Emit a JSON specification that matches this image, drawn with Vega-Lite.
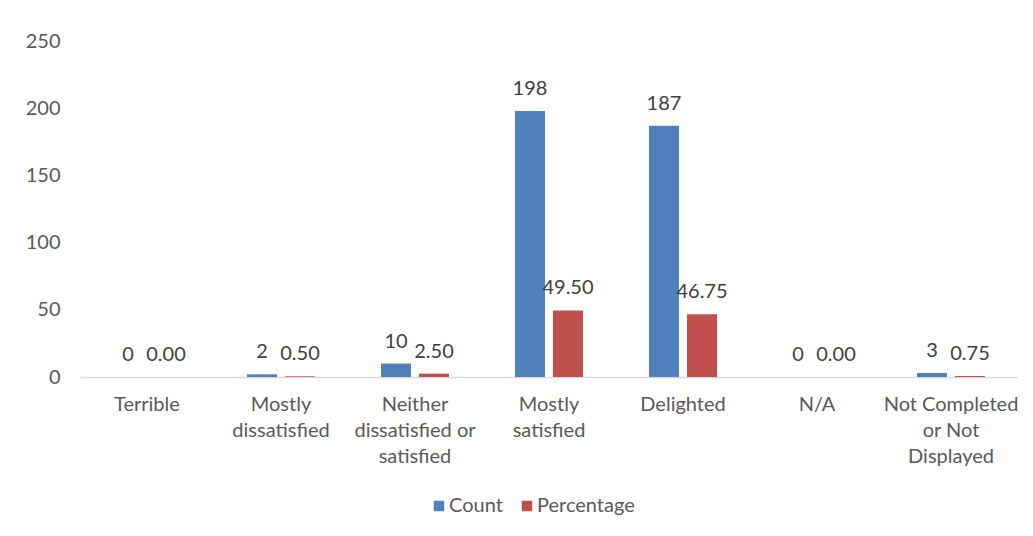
{
  "$schema": "https://vega.github.io/schema/vega-lite/v6.json",
  "autosize": "none",
  "width": 938,
  "height": 336,
  "padding": {"left": 80, "top": 41, "right": 15, "bottom": 159},
  "background": "white",
  "config": {
    "view": {"stroke": null},
    "font": "Lato",
    "axis": {"labelFont": "Lato", "labelColor": "#595959", "labelFontSize": 20},
    "legend": {"labelFont": "Lato", "labelColor": "#595959", "labelFontSize": 20}
  },
  "data": {
    "values": [
      {"category": "Terrible", "series": "Count", "value": 0},
      {"category": "Terrible", "series": "Percentage", "value": 0.0},
      {"category": "Mostly dissatisfied", "series": "Count", "value": 2},
      {"category": "Mostly dissatisfied", "series": "Percentage", "value": 0.5},
      {"category": "Neither dissatisfied or satisfied", "series": "Count", "value": 10},
      {"category": "Neither dissatisfied or satisfied", "series": "Percentage", "value": 2.5},
      {"category": "Mostly satisfied", "series": "Count", "value": 198},
      {"category": "Mostly satisfied", "series": "Percentage", "value": 49.5},
      {"category": "Delighted", "series": "Count", "value": 187},
      {"category": "Delighted", "series": "Percentage", "value": 46.75},
      {"category": "N/A", "series": "Count", "value": 0},
      {"category": "N/A", "series": "Percentage", "value": 0.0},
      {"category": "Not Completed or Not Displayed", "series": "Count", "value": 3},
      {"category": "Not Completed or Not Displayed", "series": "Percentage", "value": 0.75}
    ]
  },
  "encoding": {
    "x": {
      "field": "category",
      "type": "nominal",
      "sort": null,
      "scale": {"paddingInner": 0.4925, "paddingOuter": 0.246},
      "axis": {
        "title": null,
        "labelAngle": 0,
        "ticks": false,
        "domainColor": "#D9D9D9",
        "domainWidth": 1.5,
        "labelPadding": 17,
        "labelLineHeight": 26,
        "labelBaseline": "top",
        "labelExpr": "datum.value == 'Mostly dissatisfied' ? ['Mostly', 'dissatisfied'] : datum.value == 'Neither dissatisfied or satisfied' ? ['Neither', 'dissatisfied or', 'satisfied'] : datum.value == 'Mostly satisfied' ? ['Mostly', 'satisfied'] : datum.value == 'Not Completed or Not Displayed' ? ['Not Completed', 'or Not', 'Displayed'] : datum.value"
      }
    },
    "xOffset": {
      "field": "series",
      "type": "nominal",
      "scale": {"paddingInner": 0.2105, "paddingOuter": 0}
    }
  },
  "layer": [
    {
      "mark": {"type": "bar"},
      "encoding": {
        "y": {
          "field": "value",
          "type": "quantitative",
          "scale": {"domain": [0, 250], "nice": false},
          "axis": {"title": null, "values": [0, 50, 100, 150, 200, 250], "grid": false, "domain": false, "ticks": false, "labelPadding": 20}
        },
        "color": {
          "field": "series",
          "type": "nominal",
          "scale": {"domain": ["Count", "Percentage"], "range": ["#4F81BD", "#C0504D"]},
          "legend": {
            "title": null,
            "orient": "none",
            "direction": "horizontal",
            "legendX": 349,
            "legendY": 455,
            "symbolType": "square",
            "symbolSize": 110,
            "symbolStrokeWidth": 0,
            "columnPadding": 14,
            "labelOffset": 0
          }
        }
      }
    },
    {
      "transform": [{"filter": "datum.series == 'Count'"}],
      "mark": {"type": "text", "baseline": "middle", "dy": -22, "fontSize": 20, "color": "#404040", "font": "Lato"},
      "encoding": {
        "y": {"field": "value", "type": "quantitative"},
        "text": {"field": "value", "type": "quantitative", "format": "d"}
      }
    },
    {
      "transform": [{"filter": "datum.series == 'Percentage'"}],
      "mark": {"type": "text", "baseline": "middle", "dy": -22, "fontSize": 20, "color": "#404040", "font": "Lato"},
      "encoding": {
        "y": {"field": "value", "type": "quantitative"},
        "text": {"field": "value", "type": "quantitative", "format": ".2f"}
      }
    }
  ]
}
